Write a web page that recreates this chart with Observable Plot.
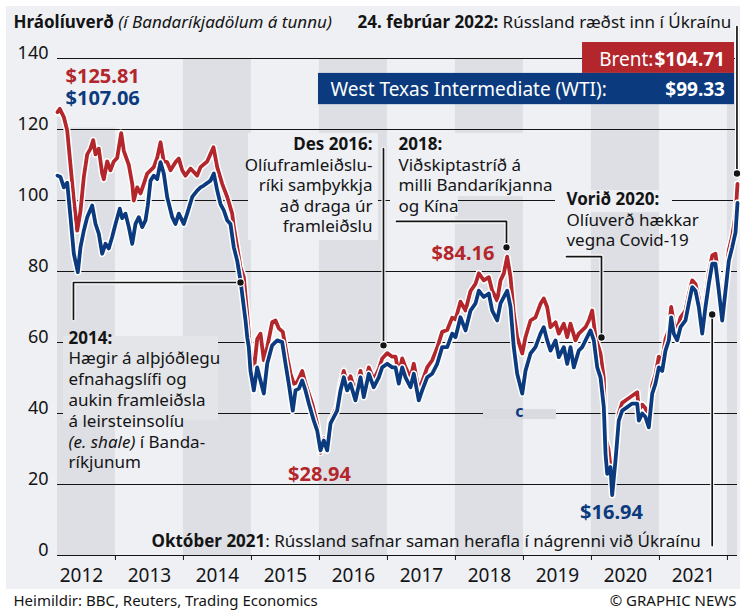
<!DOCTYPE html>
<html lang="is">
<head>
<meta charset="utf-8">
<script src="https://cdn.jsdelivr.net/npm/d3@7"></script>
<script src="https://cdn.jsdelivr.net/npm/@observablehq/plot@0.6"></script>
<style>
  html, body { margin: 0; padding: 0; background: #ffffff; }
  #wrap { position: relative; width: 742px; height: 614px; overflow: hidden; }
  #panel { position: absolute; left: 6px; top: 6px; width: 734px; height: 583px; background: #eef0f4; }
  #chart { position: absolute; left: 0; top: 0; }
</style>
</head>
<body>
<div id="wrap"><div id="panel"></div><div id="chart"></div></div>
<script>
// ---- Data (decimal years, US$ per barrel) ----
const wtiDates = [
  2012.148,2012.192,2012.241,2012.291,2012.339,2012.388,2012.447,2012.486,2012.535,2012.585,2012.658,2012.707,2012.755,2012.805,2012.854,2012.902,2012.952,
  2013.001,2013.064,2013.099,2013.148,2013.197,2013.247,2013.295,2013.344,2013.394,2013.442,2013.476,2013.516,2013.564,2013.614,2013.663,2013.711,2013.761,2013.835,2013.883,2013.932,
  2014.005,2014.055,2014.129,2014.202,2014.251,2014.299,2014.398,2014.447,2014.497,2014.545,2014.594,2014.644,2014.692,2014.741,2014.791,2014.839,2014.888,2014.913,2014.938,2014.961,2014.986,
  2015.035,2015.085,2015.133,2015.182,2015.232,2015.305,2015.379,2015.452,2015.501,2015.549,2015.608,2015.648,2015.697,2015.747,2015.795,2015.844,2015.917,2015.967,
  2016.016,2016.064,2016.114,2016.163,2016.211,2016.261,2016.310,2016.358,2016.408,2016.457,2016.530,2016.604,2016.652,2016.726,2016.799,2016.873,2016.923,2016.997,
  2017.070,2017.119,2017.167,2017.217,2017.266,2017.339,2017.388,2017.461,2017.511,2017.585,2017.658,2017.732,2017.805,2017.879,2017.952,
  2018.001,2018.074,2018.148,2018.222,2018.295,2018.344,2018.417,2018.491,2018.541,2018.614,2018.663,2018.711,2018.761,2018.810,2018.858,2018.908,2018.982,
  2019.030,2019.104,2019.177,2019.251,2019.299,2019.349,2019.398,2019.472,2019.520,2019.594,2019.644,2019.692,2019.741,2019.814,2019.864,2019.913,2019.986,
  2020.035,2020.085,2020.133,2020.182,2020.207,2020.232,2020.280,2020.305,2020.354,2020.402,2020.452,2020.526,2020.599,2020.673,2020.697,2020.747,2020.795,2020.844,2020.894,2020.942,2020.991,
  2021.041,2021.089,2021.138,2021.173,2021.211,2021.261,2021.310,2021.383,2021.432,2021.482,2021.530,2021.579,2021.629,2021.677,2021.726,2021.776,2021.824,2021.873,2021.923,2021.972,
  2022.020,2022.070,2022.119,2022.148
];
const wtiPrices = [
  107,106.6,103.7,105,95.3,85,79.8,86.8,91.5,95.3,98.6,93.4,90.7,85,87.8,86.5,89.7,
  93.4,97.7,95,96.3,92.5,87.8,93.4,95.3,92.5,94.4,98.6,105.6,107,106,110.8,107.6,101,95.3,93.4,96.3,
  93.4,96.3,101,102.8,103.7,104.2,105.6,107.6,102.8,99,97.2,94.4,93.4,86.8,83,77.5,70,66.2,61.5,58.7,52,
  46.5,53,49.3,45.6,54,59.2,60.6,60.1,54,48.4,40.8,46.5,47,49.3,46.5,42.8,38,35.2,
  29.6,32.4,29.6,37.2,39,40.8,46.5,50.2,46.5,48.4,43.7,50.2,44.6,51.2,47.4,50.2,53,54,
  53,53,48.4,53,50.2,47.4,51.2,43.7,46.5,50.2,51.2,54,58.7,58.7,62.5,
  61.5,67.1,63.4,69,71,74.6,72.8,73.8,69,66.2,71,72.8,74.6,70,58.7,51.2,45.6,
  52,56.9,58.7,62.5,64.3,60.6,57.7,60.6,55.9,58.7,54,58.7,53,57.7,58.7,60.6,63.4,
  60.6,53,50.2,41.8,28.7,23,24.9,17,26.8,38,40.8,41.8,42.8,42.8,38,40,39,36.1,45.6,48.4,53,
  52,57.7,60.6,67.1,62.5,60.6,64.3,66.2,71,75.6,74.6,70,62.5,70,76.5,82.2,82.2,74.6,66.2,74.6,
  83,86.8,91,99.33
];
const brentDates = [
  2012.148,2012.182,2012.241,2012.291,2012.339,2012.388,2012.438,2012.486,2012.535,2012.585,2012.633,2012.673,2012.707,2012.755,2012.805,2012.829,2012.879,2012.927,2012.976,
  2013.026,2013.085,2013.123,2013.197,2013.247,2013.270,2013.320,2013.369,2013.417,2013.467,2013.516,2013.564,2013.614,2013.663,2013.711,2013.761,2013.810,2013.883,2013.932,2013.982,
  2014.030,2014.104,2014.202,2014.251,2014.349,2014.442,2014.497,2014.570,2014.644,2014.717,2014.741,2014.791,2014.839,2014.888,2014.938,2014.986,
  2015.035,2015.085,2015.133,2015.182,2015.232,2015.305,2015.354,2015.402,2015.461,2015.526,2015.575,2015.623,2015.673,2015.747,2015.795,2015.893,2015.967,
  2016.016,2016.064,2016.114,2016.163,2016.261,2016.310,2016.358,2016.408,2016.457,2016.530,2016.604,2016.652,2016.726,2016.799,2016.873,2016.923,2016.997,
  2017.070,2017.119,2017.167,2017.217,2017.266,2017.339,2017.388,2017.461,2017.511,2017.585,2017.658,2017.732,2017.805,2017.879,2017.952,
  2018.001,2018.074,2018.148,2018.222,2018.295,2018.344,2018.417,2018.491,2018.541,2018.614,2018.663,2018.711,2018.761,2018.810,2018.858,2018.908,2018.982,
  2019.030,2019.104,2019.177,2019.251,2019.299,2019.349,2019.398,2019.472,2019.520,2019.594,2019.644,2019.692,2019.765,2019.814,2019.864,2019.913,2019.962,
  2020.011,2020.060,2020.133,2020.182,2020.207,2020.250,2020.305,2020.354,2020.402,2020.452,2020.526,2020.599,2020.673,2020.697,2020.747,2020.795,2020.844,2020.894,2020.942,2020.991,
  2021.041,2021.089,2021.138,2021.173,2021.211,2021.261,2021.310,2021.383,2021.432,2021.482,2021.530,2021.579,2021.629,2021.677,2021.726,2021.776,2021.824,2021.873,2021.923,2021.972,
  2022.020,2022.070,2022.119,2022.148
];
const brentPrices = [
  124.9,125.81,123.5,119.7,110,100,91.5,97,106.6,113,114.6,117,113,114.6,107.6,106,111,108.5,111,
  112,119,114,110,104.7,100,103.7,102,104.7,107.6,108.5,109.4,112,116.4,111,110.8,108.5,110.8,111.8,108.5,
  107,109,107,109.4,111,115,109.4,104.7,101,96.3,92.5,86.8,81.2,78.4,68,57,
  52,61,62.5,55,58.7,65.7,66.2,64,63,55.9,51.2,48.4,48.8,52,48.4,42.8,37,
  28.94,33,31,38,42,48,52,48.5,50.5,46,52,47,53,49.5,52.5,55.5,57,
  56,56,51,55.5,53,50,54,46.5,49,53,55,58.5,63,63.5,67,
  66.5,71.5,69,74.5,76.5,79.5,77.5,78.4,74.6,71.8,77.5,79.4,84.16,78.4,68.2,61.5,56.9,
  61.5,66.2,67.1,70.9,72.4,70,64.3,65.7,62.5,65.3,61.5,65.3,60.6,62.5,63.4,64.3,66.2,
  69,61.5,56.9,50,33,30,21,28,40,43,44,45,46,41,42.5,41.5,38,48,51,56,
  55,61,63.5,70,65.5,63.5,67,69,73.5,77.5,76.5,72.5,65.5,72.5,79.5,84.5,85,77.5,69,77.5,
  86,90,96,104.71
];
const yTicks = [0, 20, 40, 60, 80, 100, 120, 140];
const yearTicks = [2013, 2014, 2015, 2016, 2017, 2018, 2019, 2020, 2021, 2022];
const yearLabels = [2012, 2013, 2014, 2015, 2016, 2017, 2018, 2019, 2020, 2021];
const shadedYears = [2012, 2014, 2016, 2018, 2020, 2022];

// ---- Styling ----
const FONT = "Noto Sans";
const PANEL = "#eef0f4", BAND = "#dddfe4", RED = "#b3262b", BLUE = "#0b3b7e", INK = "#141414";
const X0 = 2012.148, X1 = 2022.148;

const brent = brentDates.map((d, i) => ({date: d, price: brentPrices[i]}));
const wti = wtiDates.map((d, i) => ({date: d, price: wtiPrices[i]}));

const ctx = document.createElement("canvas").getContext("2d");
function tw(s, size, weight = "normal", style = "normal") {
  ctx.font = `${style} ${weight} ${size}px "${FONT}"`;
  return ctx.measureText(s).width;
}
function txt(s, x, y, o = {}) {
  return Plot.text([s], {x, y, text: d => d, lineAnchor: "bottom", textAnchor: "start",
    fontFamily: FONT, fontSize: 17, fill: INK, ...o});
}
// a block of lines: each entry is a string or an array of [text, options] runs
function block(lines, x, y, step, base = {}) {
  const out = [];
  lines.forEach((line, i) => {
    const runs = typeof line === "string" ? [[line, {}]] : line;
    let off = 0;
    runs.forEach(([s, o]) => {
      const size = o.fontSize ?? base.fontSize ?? 17;
      out.push(txt(s, x, y, {...base, ...o, dy: i * step, dx: (base.dx ?? 0) + off}));
      off += tw(s, size, o.fontWeight ?? base.fontWeight ?? "normal", o.fontStyle ?? "normal") + tw(" ", size);
    });
  });
  return out;
}

// annotation backing boxes [x1, x2, y1, y2]
const panelBoxes = [
  [2012.148, 2013.516, 123.4, 139.7],
  [2012.266, 2013.0, 120.4, 123.4],
  [2014.957, 2016.868, 88.7, 118.9],
  [2017.045, 2019.545, 101.1, 118.9],
  [2017.045, 2018.045, 95.5, 101.1],
  [2019.471, 2021.192, 96.6, 102.8]
];
const grayBoxes = [[2012.236, 2014.516, 38.0, 61.7]];
const stripBoxes = [[2018.413, 2019.486, 38.3, 41.1]];

const leaderPaths = [
  [[2022.14, 149], [2022.14, 107.6]],
  [[2016.942, 114.6], [2016.942, 59.2]],
  [[2017.133, 94.1], [2018.751, 94.1], [2018.751, 86.8]],
  [[2019.633, 84.2], [2020.148, 84.2], [2020.148, 61.4]],
  [[2012.383, 66.5], [2012.383, 76.9], [2014.839, 76.9]],
  [[2021.776, 2.8], [2021.776, 67.9]]
];
const leaderPts = leaderPaths.flatMap((p, k) => p.map(([x, y]) => ({k, x, y})));
const leaderDots = leaderPaths.map(p => p[p.length - 1]);
leaderDots[5] = leaderPaths[5][1];

const boxRect = (arr, fill) => Plot.rect(arr, {x1: d => d[0], x2: d => d[1], y1: d => d[2], y2: d => d[3], fill});
const B = {fontWeight: "bold"};

const marks = [
  Plot.rect(shadedYears, {x1: d => Math.max(d, X0), x2: d => Math.min(d + 1, X1), y1: 0, y2: 140, fill: BAND}),
  Plot.ruleY(yTicks, {stroke: INK, strokeWidth: 1}),
  boxRect(panelBoxes, PANEL),
  boxRect(grayBoxes, "#e3e5e9"),
  boxRect(stripBoxes, "#d9dbe0"),
  Plot.axisY(yTicks, {anchor: "left", tickSize: 0, tickPadding: 9, fontSize: 18, dy: -5, label: null, fill: INK}),
  Plot.axisX(yearTicks, {anchor: "bottom", tickSize: 5, tickFormat: () => "", label: null, stroke: INK}),
  Plot.axisX(yearLabels.map(y => y + 0.5), {anchor: "bottom", tickSize: 0, tickPadding: 13, fontSize: 19,
    tickFormat: d => String(Math.floor(d)), label: null, fill: INK}),
  // price lines with white casing
  Plot.line(brent, {x: "date", y: "price", stroke: "white", strokeWidth: 6.8, strokeLinejoin: "round"}),
  Plot.line(brent, {x: "date", y: "price", stroke: RED, strokeWidth: 3.8, strokeLinejoin: "round"}),
  Plot.line(wti, {x: "date", y: "price", stroke: "white", strokeWidth: 6.8, strokeLinejoin: "round"}),
  Plot.line(wti, {x: "date", y: "price", stroke: BLUE, strokeWidth: 3.8, strokeLinejoin: "round"}),
  // leaders
  Plot.line(leaderPts, {x: "x", y: "y", z: "k", stroke: "white", strokeWidth: 4}),
  Plot.line(leaderPts, {x: "x", y: "y", z: "k", stroke: INK, strokeWidth: 1.7}),
  Plot.dot(leaderDots, {x: d => d[0], y: d => d[1], r: 3.8, fill: INK, stroke: "white", strokeWidth: 1.2}),
  // title & headline
  ...block([[["Hráolíuverð", B], ["(í Bandaríkjadölum á tunnu)", {fontStyle: "italic"}]]], 2011.501, 148.7, 0),
  ...block([[["24. febrúar 2022:", B], ["Rússland ræðst inn í Úkraínu", {}]]], 2016.560, 148.7, 0),
  // latest price boxes
  boxRect([[2019.869, 2022.104, 135.8, 144.5]], RED),
  boxRect([[2015.986, 2022.104, 127.0, 135.8]], BLUE),
  txt("$104.71", 2021.964, 138.0, {textAnchor: "end", fontWeight: "bold", fill: "white", fontSize: 19}),
  txt("Brent:", 2021.964, 138.0, {textAnchor: "end", fill: "white", fontSize: 19, dx: -tw("$104.71", 19, "bold") - 1}),
  txt("West Texas Intermediate (WTI):", 2016.163, 129.3, {fill: "white", fontSize: 19}),
  txt("$99.33", 2021.964, 129.3, {textAnchor: "end", fontWeight: "bold", fill: "white", fontSize: 19}),
  // price call-outs
  txt("$125.81", 2012.266, 133.2, {fontWeight: "bold", fill: RED, fontSize: 20}),
  txt("$107.06", 2012.266, 127.0, {fontWeight: "bold", fill: BLUE, fontSize: 20}),
  txt("$28.94", 2016.001, 21.1, {textAnchor: "middle", fontWeight: "bold", fill: RED, fontSize: 20}),
  txt("$84.16", 2018.111, 83.1, {textAnchor: "middle", fontWeight: "bold", fill: RED, fontSize: 20}),
  txt("$16.94", 2020.295, 10.4, {textAnchor: "middle", fontWeight: "bold", fill: BLUE, fontSize: 20}),
  txt("c", 2018.942, 38.9, {textAnchor: "middle", fontWeight: "bold", fill: BLUE, fontSize: 16}),
  // annotation blocks
  ...block([[["Des 2016:", B]], "Olíuframleiðslu-", "ríki samþykkja", "að draga úr", "framleiðslu"],
    2016.780, 114.1, 20.4, {textAnchor: "end"}),
  ...block([[["2018:", B]], "Viðskiptastríð á", "milli Bandaríkjanna", "og Kína"], 2017.163, 114.1, 20.4),
  ...block([[["Vorið 2020:", B]], "Olíuverð hækkar", "vegna Covid-19"], 2019.633, 98.6, 20.4),
  ...block([[["2014:", B]], "Hægir á alþjóðlegu", "efnahagslífi og", "aukin framleiðsla", "á leirsteinsolíu",
    [["(e. shale)", {fontStyle: "italic"}], ["í Banda-", {}]], "ríkjunum"], 2012.310, 59.7, 20.8),
  txt("Október 2021", 2013.530, 2.5, {fontWeight: "bold"}),
  txt(": Rússland safnar saman herafla í nágrenni við Úkraínu", 2013.530, 2.5, {dx: tw("Október 2021", 17, "bold")}),
  // footer
  txt("Heimildir: BBC, Reuters, Trading Economics", 2011.501, -14.1, {fontSize: 15}),
  txt("© GRAPHIC NEWS", 2022.133, -14.1, {textAnchor: "end", fontSize: 15})
];

const chart = Plot.plot({
  width: 742, height: 614,
  marginLeft: 57, marginRight: 5, marginTop: 58, marginBottom: 59,
  x: {domain: [X0, X1]},
  y: {domain: [0, 140]},
  style: {background: "transparent", fontFamily: FONT, overflow: "visible"},
  marks
});
document.getElementById("chart").append(chart);
</script>
</body>
</html>
